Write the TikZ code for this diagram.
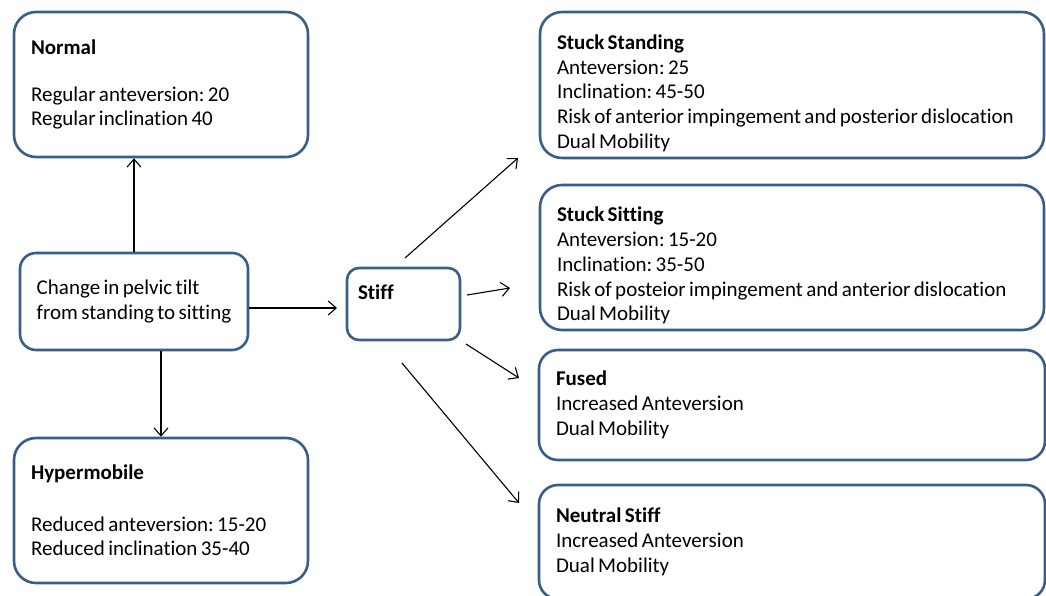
\documentclass[tikz,border=0pt]{standalone}
\usepackage{fontspec}
\setmainfont{Carlito}[Ligatures=NoCommon]
\usepackage{xcolor}
\usetikzlibrary{arrows.meta}
\definecolor{boxblue}{HTML}{385D8A}
\frenchspacing
\newcommand{\padtop}{\rule{0pt}{31pt}}
\newcommand{\boxfont}{\fontsize{21}{24.7}\selectfont
  \spaceskip=3.4pt plus 1pt minus 1pt\relax
  \hyphenpenalty=10000\relax}
\tikzset{
  pbox/.style={draw=boxblue, line width=2.6pt, rounded corners=#1, fill=white,
    inner xsep=17pt, inner ysep=0pt, align=flush left, font=\boxfont},
  pbox/.default=22pt,
  link/.style={-{Straight Barb[length=8pt,width=14pt]}, line width=1.1pt}
}

\begin{document}
\begin{tikzpicture}[x=1pt,y=-1pt]
\useasboundingbox (0,0) rectangle (1046,596);

% left column
\node[pbox, text width=260pt, minimum height=145pt] (normal) at (161,84.5)
  {\textbf{Normal}\\[22pt] Regular anteversion: 20\\ Regular inclination 40};
\node[pbox=16pt, inner xsep=0pt, minimum width=228pt, minimum height=97pt] (change) at (134,301.5)
  {Change in pelvic tilt\\ from standing to sitting};
\node[pbox, text width=260pt, minimum height=145pt] (hyper) at (161,510.5)
  {\textbf{Hypermobile}\\[27pt] Reduced anteversion: 15-20\\ Reduced inclination 35-40};
\node[pbox=12pt, inner xsep=11pt, text width=91pt, minimum height=72pt] (stiff) at (403.5,304)
  {\textbf{Stiff}\\ ~};

% right column
\node[pbox, text width=470pt, minimum height=146pt] (standing) at (792,85)
  {\padtop\textbf{Stuck Standing}\\ Anteversion: 25\\ Inclination: 45-50\\
   Risk of anterior impingement and posterior dislocation\\ Dual Mobility};
\node[pbox, text width=470pt, minimum height=145pt] (sitting) at (792,257.5)
  {\padtop\textbf{Stuck Sitting}\\ Anteversion: 15-20\\ Inclination: 35-50\\
   Risk of posteior impingement and anterior dislocation\\ Dual Mobility};
\node[pbox=19pt, text width=472pt, minimum height=110pt] (fused) at (792,405)
  {\textbf{Fused}\\ Increased Anteversion\\ Dual Mobility};
\node[pbox=19pt, text width=472pt, minimum height=114pt] (neutral) at (792,542)
  {\textbf{Neutral Stiff}\\ Increased Anteversion\\ Dual Mobility};

% connectors
\coordinate (c2s) at (337,308);
\coordinate (s1a) at (405,258);
\coordinate (s1b) at (518,158);
\coordinate (s2a) at (467,295);
\coordinate (s2b) at (510,288);
\coordinate (s3a) at (466,344);
\coordinate (s3b) at (519,378);
\coordinate (s4a) at (402,363);
\coordinate (s4b) at (519,503);

\draw[link] (change.north) -- (change.north |- normal.south);
\draw[link] (hyper.north |- change.south) -- (hyper.north);
\draw[link] (change.east |- c2s) -- (c2s);
\draw[link] (s1a) -- (s1b);
\draw[link] (s2a) -- (s2b);
\draw[link] (s3a) -- (s3b);
\draw[link] (s4a) -- (s4b);
\end{tikzpicture}
\end{document}
